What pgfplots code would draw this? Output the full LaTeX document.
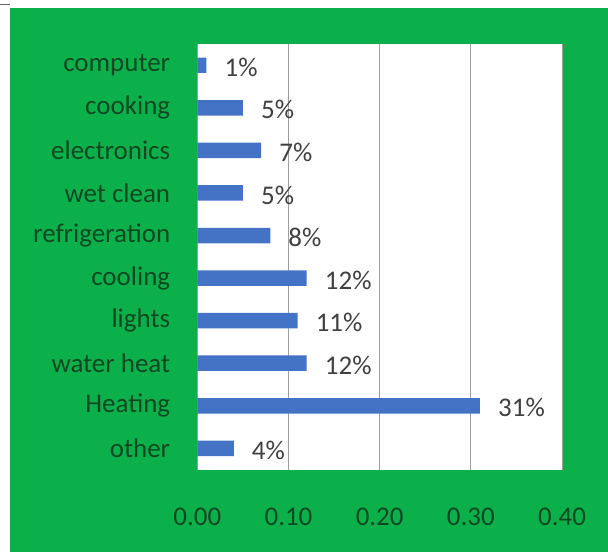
\documentclass[border=0pt]{standalone}
\usepackage{pgfplots}
\pgfplotsset{compat=1.18}
\usetikzlibrary{backgrounds,calc}
\usepackage{fontspec}
\setmainfont{Carlito}
\definecolor{framegreen}{RGB}{12,176,74}
\definecolor{barblue}{RGB}{68,114,196}
\definecolor{labelgray}{RGB}{64,64,64}
\definecolor{tickgreen}{RGB}{14,72,34}
\begin{document}
\begin{tikzpicture}
\begin{axis}[
  scale only axis, width=365pt, height=426pt,
  xmin=0, xmax=0.4, ymin=-0.5, ymax=9.5,
  xtick={0,0.1,0.2,0.3,0.4},
  ytick={0,1,2,3,4,5,6,7,8,9},
  yticklabels={other,Heating,water heat,lights,cooling,refrigeration,wet clean,electronics,cooking,computer},
  /pgf/number format/assume math mode=true,
  xticklabel={\pgfmathprintnumber[fixed,fixed zerofill,precision=2]{\tick}},
  axis background/.style={fill=white},
  axis line style={draw=none},
  major tick length=0pt,
  xmajorgrids, grid style={gray!75, line width=0.8pt},
  xticklabel style={anchor=center, inner sep=0pt, yshift=-47pt, font=\fontsize{27}{30}\selectfont, text=tickgreen},
  yticklabel style={anchor=east, inner sep=0pt, xshift=-27pt, font=\fontsize{27}{30}\selectfont, text=tickgreen},
  clip=false,
]
\addplot[xbar, fill=barblue, draw=none, bar width=15.5pt,
  point meta={x*100},
  nodes near coords={\pgfmathprintnumber[fixed,precision=0]{\pgfplotspointmeta}\%},
  nodes near coords style={anchor=west, inner sep=0pt, xshift=18pt, yshift=-2pt, font=\fontsize{27}{30}\selectfont, text=labelgray},
] coordinates {
  (0.04,0) (0.31,1) (0.12,2) (0.11,3) (0.12,4)
  (0.08,5) (0.05,6) (0.07,7) (0.05,8) (0.01,9)
};
\draw[gray!75, line width=0.8pt] (rel axis cs:1,0) -- (rel axis cs:1,1);
\coordinate (sw) at (rel axis cs:0,0);
\end{axis}
\pgfresetboundingbox
\coordinate (page) at ($(sw)+(-197pt,-82pt)$);
\begin{scope}[on background layer]
  \fill[white] (page) rectangle ++(608pt,552pt);
  \fill[framegreen] ($(page)+(10pt,0pt)$) rectangle ++(598pt,544pt);
  \draw[gray!80!black, line width=1pt] ($(page)+(0pt,547pt)$) -- ++(10pt,0pt);
\end{scope}
\path[use as bounding box] (page) rectangle ++(608pt,552pt);
\end{tikzpicture}
\end{document}
